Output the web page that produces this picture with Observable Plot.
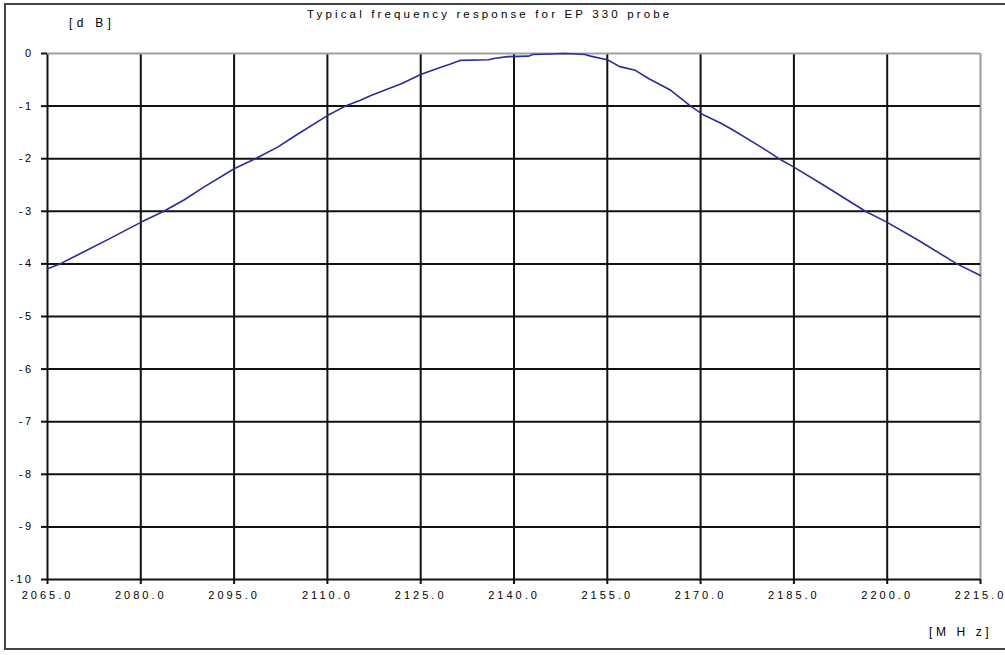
<!DOCTYPE html>
<html>
<head>
<meta charset="utf-8">
<script src="https://cdn.jsdelivr.net/npm/d3@7"></script>
<script src="https://cdn.jsdelivr.net/npm/@observablehq/plot@0.6"></script>
<style>
  html, body { margin: 0; padding: 0; background: #fff; }
  #wrap { position: relative; width: 1005px; height: 655px; overflow: hidden; font-family: "Liberation Sans", Arial, sans-serif; }
  #border { position: absolute; left: 4px; top: 3px; width: 1010px; height: 647px; border: 2px solid #444; box-sizing: border-box; }
  .lbl { position: absolute; font-size: 11px; color: #000; white-space: nowrap; }
  #chart svg g[aria-label="x-axis tick label"] text { letter-spacing: 3px; }
  #chart svg g[aria-label="y-axis tick label"] text { letter-spacing: 2.5px; }
  #chart { position: absolute; left: 0; top: 0; }
</style>
</head>
<body>
<div id="wrap">
  <div id="border"></div>
  <div id="chart"></div>
  <div class="lbl" id="title" style="left:307px; top:8px; font-size:11.5px; letter-spacing:3.15px;"></div>
  <div class="lbl" id="ylab" style="left:69px; top:16px; font-size:12px; letter-spacing:4.3px;"></div>
  <div class="lbl" id="xlab" style="left:929px; top:625px; font-size:12px; letter-spacing:3.6px;"></div>
</div>
<script>
const titleText = "Typical frequency response for EP 330 probe";
const yUnit = "[d B]";
const xUnit = "[M H z]";

const freq = [2065, 2067, 2070, 2075, 2080, 2083.7, 2087, 2090, 2095, 2098.4, 2102, 2105, 2110, 2112.9, 2115.3, 2117, 2120, 2121.8, 2125, 2128, 2129.8, 2131.4, 2135.9, 2137, 2139, 2142.4, 2143, 2146, 2148, 2150, 2151.4, 2152.3, 2155, 2157, 2159.5, 2161.7, 2165.2, 2168.4, 2170.5, 2173.2, 2175, 2180, 2182.6, 2185, 2190, 2196.5, 2200, 2205, 2211.2, 2215];
const dB   = [-4.09, -4.0, -3.82, -3.52, -3.21, -3.0, -2.78, -2.55, -2.19, -2.0, -1.78, -1.55, -1.18, -1.0, -0.89, -0.80, -0.66, -0.58, -0.40, -0.27, -0.20, -0.13, -0.12, -0.09, -0.06, -0.05, -0.02, -0.01, 0.0, -0.01, -0.02, -0.05, -0.12, -0.25, -0.32, -0.48, -0.70, -1.0, -1.17, -1.32, -1.44, -1.80, -2.0, -2.16, -2.52, -3.0, -3.21, -3.55, -4.0, -4.22];

const xTicks = [2065, 2080, 2095, 2110, 2125, 2140, 2155, 2170, 2185, 2200, 2215];
const yTicks = [0, -1, -2, -3, -4, -5, -6, -7, -8, -9, -10];

const data = freq.map((f, i) => ({f, v: dB[i]}));

document.getElementById("title").textContent = titleText;
document.getElementById("ylab").textContent = yUnit;
document.getElementById("xlab").textContent = xUnit;

const chart = Plot.plot({
  width: 1005,
  height: 655,
  marginLeft: 47,
  marginRight: 25,
  marginTop: 53,
  marginBottom: 76,
  style: {fontFamily: "Liberation Sans, Arial, sans-serif", fontSize: "11px", background: "transparent", color: "#000"},
  x: {domain: [2065, 2215]},
  y: {domain: [-10, 0]},
  marks: [
    Plot.ruleX(xTicks.filter(d => d < 2215), {stroke: "#111", strokeWidth: 2}),
    Plot.ruleX([2215], {stroke: "#9a9a9a", strokeWidth: 2}),
    Plot.ruleY(yTicks.filter(d => d < 0), {stroke: "#111", strokeWidth: 2}),
    Plot.ruleY([0], {stroke: "#a0a0a0", strokeWidth: 2}),
    Plot.axisX({ticks: xTicks, tickFormat: d => d.toFixed(1), tickSize: 5, tickPadding: 7, label: null, stroke: "#111", strokeWidth: 2, strokeOpacity: 1}),
    Plot.axisY({ticks: yTicks, tickFormat: d => String(d), tickSize: 6, tickPadding: 8, label: null, stroke: "#111", strokeWidth: 2, strokeOpacity: 1}),
    Plot.line(data, {x: "f", y: "v", stroke: "#2b2ba0", strokeWidth: 1.6})
  ]
});
document.getElementById("chart").appendChild(chart);
</script>
</body>
</html>
